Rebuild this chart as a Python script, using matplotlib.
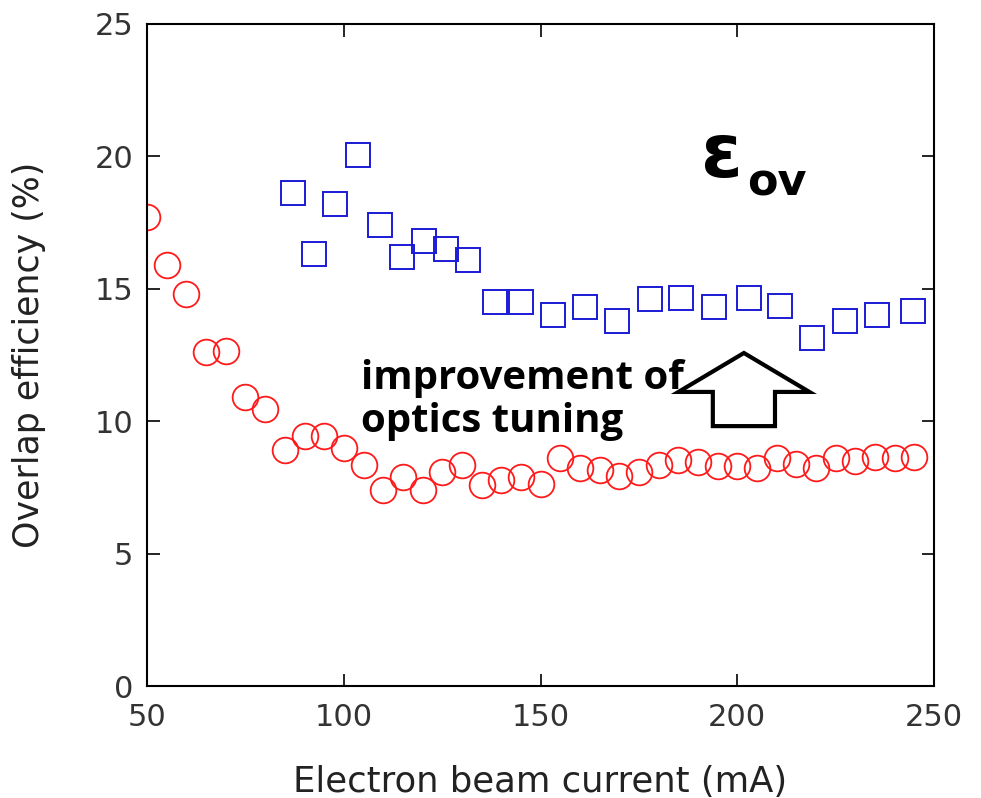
import numpy as np
import matplotlib
matplotlib.use('Agg')
from matplotlib import pyplot as plt
from matplotlib.patches import FancyArrow

# before optics tuning (red circles)
x_red = [50, 55, 60, 65, 70, 75, 80, 85, 90, 95, 100, 105, 110, 115, 120, 125, 130, 135, 140, 145,
         150, 155, 160, 165, 170, 175, 180, 185, 190, 195, 200, 205, 210, 215, 220, 225, 230, 235, 240, 245]
y_red = [17.7, 15.9, 14.8, 12.6, 12.65, 10.9, 10.45, 8.9, 9.45, 9.45, 9.0, 8.35, 7.4, 7.9, 7.4, 8.1, 8.35, 7.6, 7.8, 7.9,
         7.65, 8.6, 8.25, 8.15, 7.95, 8.1, 8.35, 8.55, 8.45, 8.3, 8.3, 8.25, 8.6, 8.4, 8.25, 8.6, 8.5, 8.65, 8.6, 8.65]

# after optics tuning (blue squares)
x_blue = [87.1, 92.4, 97.8, 103.6, 109.2, 114.8, 120.4, 126.0, 131.6, 138.4, 145.0, 153.2, 161.3, 169.4,
          177.8, 185.7, 194.1, 203.0, 210.9, 219.0, 227.4, 235.5, 244.7]
y_blue = [18.6, 16.3, 18.2, 20.05, 17.4, 16.2, 16.8, 16.5, 16.1, 14.5, 14.5, 14.0, 14.3, 13.8,
          14.6, 14.65, 14.3, 14.65, 14.35, 13.15, 13.8, 14.0, 14.15]

fig = plt.figure(figsize=(9.81, 7.98), dpi=100)
ax = fig.add_axes([0.150, 0.140, 0.802, 0.830])

ax.plot(x_red, y_red, 'o', ms=18.5, mfc='none', mec='#ff1a1a', mew=1.3, linestyle='none')
ax.plot(x_blue, y_blue, 's', ms=17, mfc='none', mec='#1a1ad6', mew=1.4, linestyle='none')

ax.set_xlim(50, 250)
ax.set_ylim(0, 25)
ax.set_xticks([50, 100, 150, 200, 250])
ax.set_yticks([0, 5, 10, 15, 20, 25])
ax.tick_params(direction='in', length=9, width=1.2, top=True, right=True,
               labelsize=22, labelcolor='#333333')
ax.tick_params(axis='x', pad=12)
ax.tick_params(axis='y', pad=10)
for s in ax.spines.values():
    s.set_linewidth(1.5)

ax.set_xlabel('Electron beam current (mA)', fontsize=25.5, color='#222222', labelpad=24)
ax.yaxis.set_label_coords(-0.128, 0.5)
ax.set_ylabel('Overlap efficiency (%)', fontsize=25, color='#222222')

ax.text(0.272, 0.384, 'improvement of\noptics tuning', transform=ax.transAxes,
        fontsize=29, fontweight='bold', family='Open Sans', linespacing=1.12, va='baseline')

# up arrow
arr = FancyArrow(201.7, 9.82, 0, 2.76, width=15.8, head_width=33.3, head_length=1.47,
                 length_includes_head=True, fc='white', ec='black', lw=3, zorder=3)
ax.add_patch(arr)

ax.text(0.704, 0.745, 'ε', transform=ax.transAxes, fontsize=54, fontweight='bold', va='bottom')
ax.text(0.763, 0.727, 'ov', transform=ax.transAxes, fontsize=32, fontweight='bold', va='bottom')

fig.savefig('out.png', dpi=100)
